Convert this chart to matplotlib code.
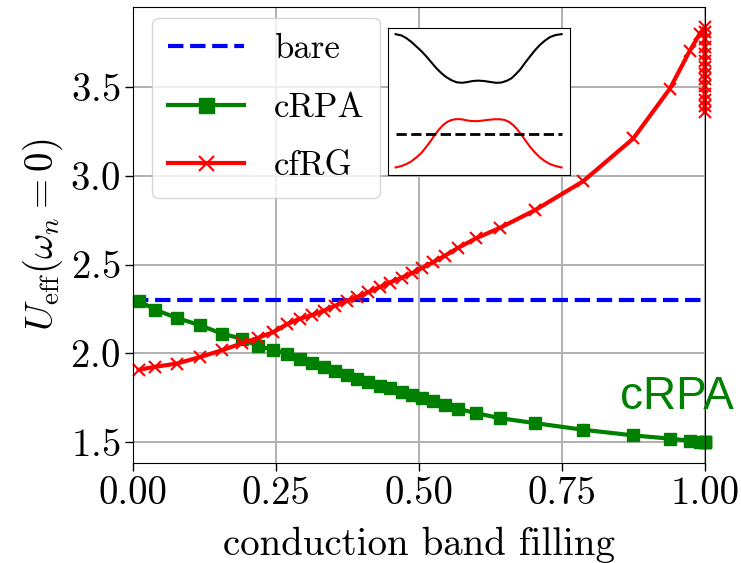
import numpy as np
import matplotlib
matplotlib.use("Agg")
import matplotlib.pyplot as plt

plt.rcParams['font.family'] = 'serif'
plt.rcParams['font.serif'] = ['cmr10']
plt.rcParams['mathtext.fontset'] = 'cm'
plt.rcParams['axes.formatter.use_mathtext'] = True

# conduction band filling (shared grid)
filling = [0.009, 0.0385, 0.076, 0.117, 0.155, 0.190, 0.219, 0.245, 0.269, 0.292,
           0.312, 0.333, 0.353, 0.374, 0.392, 0.411, 0.432, 0.449, 0.470, 0.488,
           0.505, 0.525, 0.545, 0.569, 0.600, 0.642, 0.703, 0.787, 0.875, 0.939,
           0.974, 0.991]

u_bare = 2.30

u_crpa = [2.297, 2.245, 2.200, 2.158, 2.111, 2.083, 2.040, 2.020, 1.999, 1.971,
          1.947, 1.925, 1.901, 1.878, 1.856, 1.841, 1.818, 1.803, 1.785, 1.768,
          1.752, 1.735, 1.711, 1.688, 1.664, 1.636, 1.608, 1.571, 1.539, 1.521,
          1.509, 1.502]
fill_end_crpa = [1.0, 1.0, 1.0]
u_crpa_end = [1.504, 1.503, 1.503]

u_cfrg = [1.908, 1.925, 1.943, 1.980, 2.018, 2.057, 2.089, 2.120, 2.165, 2.196,
          2.215, 2.240, 2.268, 2.296, 2.318, 2.344, 2.374, 2.399, 2.427, 2.452,
          2.480, 2.514, 2.549, 2.595, 2.648, 2.707, 2.806, 2.968, 3.209, 3.489,
          3.703, 3.796]
fill_end_cfrg = [1.0, 1.0, 1.0, 1.0, 1.0, 1.0, 1.0, 1.0, 1.0, 1.0, 1.0, 1.0, 1.0, 1.0]
u_cfrg_end = [3.835, 3.807, 3.768, 3.724, 3.687, 3.645, 3.612, 3.573, 3.546, 3.505,
              3.460, 3.425, 3.394, 3.360]

# inset: schematic bands
k_upper = [0.042, 0.075, 0.101, 0.130, 0.156, 0.185, 0.211, 0.240, 0.266, 0.295,
           0.321, 0.350, 0.376, 0.405, 0.431, 0.465, 0.495, 0.530, 0.560, 0.595,
           0.624, 0.655, 0.679, 0.700, 0.725, 0.752, 0.780, 0.808, 0.835, 0.862,
           0.890, 0.920, 0.954]
e_upper = [0.959, 0.950, 0.932, 0.905, 0.875, 0.842, 0.807, 0.765, 0.727, 0.692,
           0.666, 0.645, 0.632, 0.628, 0.632, 0.640, 0.643, 0.640, 0.634, 0.628,
           0.630, 0.643, 0.659, 0.684, 0.716, 0.762, 0.807, 0.850, 0.886, 0.915,
           0.939, 0.953, 0.959]
k_lower = [0.042, 0.075, 0.101, 0.130, 0.156, 0.185, 0.211, 0.235, 0.257, 0.280,
           0.303, 0.325, 0.349, 0.375, 0.404, 0.430, 0.459, 0.487, 0.514, 0.550,
           0.587, 0.615, 0.642, 0.665, 0.688, 0.711, 0.734, 0.757, 0.780, 0.808,
           0.835, 0.862, 0.890, 0.920, 0.954]
e_lower = [0.052, 0.062, 0.075, 0.095, 0.120, 0.153, 0.193, 0.233, 0.273, 0.310,
           0.341, 0.362, 0.375, 0.381, 0.380, 0.373, 0.368, 0.367, 0.370, 0.376,
           0.380, 0.380, 0.375, 0.362, 0.341, 0.310, 0.273, 0.233, 0.193, 0.153,
           0.120, 0.095, 0.075, 0.062, 0.052]
k_fermi = [0.046, 0.954]
e_fermi = 0.280

fig = plt.figure(figsize=(7.41, 5.63), dpi=100)
ax = fig.add_axes([0.18, 0.178, 0.771, 0.81])

ax.plot([0, 1], [u_bare, u_bare], '--', color='blue', lw=3, label='bare')
ax.plot(filling + fill_end_crpa, u_crpa + u_crpa_end, '-s', color='green', lw=3,
        ms=9, label='cRPA', clip_on=False)
ax.plot(filling + fill_end_cfrg, u_cfrg + u_cfrg_end, '-x', color='red', lw=3,
        ms=9, mew=1.5, label='cfRG', clip_on=False)

ax.set_xlim(0, 1)
ax.set_ylim(1.385, 3.95)
ax.set_xticks([0, 0.25, 0.5, 0.75, 1.0])
ax.set_xticklabels(['0.00', '0.25', '0.50', '0.75', '1.00'])
ax.set_yticks([1.5, 2.0, 2.5, 3.0, 3.5])
ax.tick_params(labelsize=28, length=6, width=1)
ax.grid(True, color='#b0b0b0', lw=1.4)
ax.set_axisbelow(True)
ax.set_xlabel('conduction band filling', fontsize=28, labelpad=11)
ax.set_ylabel(r'$U_{\rm eff}(\omega_n=0)$', fontsize=28, labelpad=4)

ax.legend(loc='upper left', bbox_to_anchor=(0.033, 0.975), borderaxespad=0,
          fontsize=25, handlelength=2.2, handletextpad=0.85,
          labelspacing=0.77, borderpad=0.45, markerscale=1.2, framealpha=0.8)

ax.text(0.851, 1.69, 'cRPA', color='green', fontsize=33,
        family='Liberation Sans')

ins = fig.add_axes([0.5236, 0.689, 0.2456, 0.261])
ins.plot(k_upper, e_upper, color='black', lw=1.5)
ins.plot(k_lower, e_lower, color='red', lw=1.5)
ins.plot(k_fermi, [e_fermi, e_fermi], '--', color='black', lw=2)
ins.set_xlim(0, 1)
ins.set_ylim(0, 1)
ins.set_xticks([])
ins.set_yticks([])

fig.savefig('out.png', dpi=100)
